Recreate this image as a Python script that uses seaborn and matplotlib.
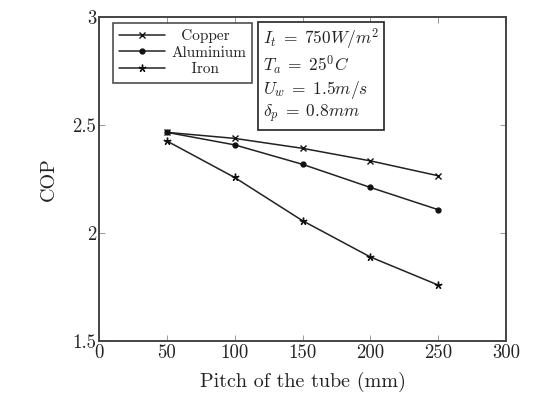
import matplotlib
matplotlib.use("Agg")
import matplotlib.pyplot as plt
import seaborn as sns
import pandas as pd

# Tube pitch (mm) and coefficient of performance per absorber material
pitch = [50, 100, 150, 200, 250]
cop_copper = [2.466, 2.438, 2.392, 2.334, 2.265]
cop_aluminium = [2.466, 2.408, 2.318, 2.211, 2.108]
cop_iron = [2.426, 2.257, 2.057, 1.889, 1.759]
materials = ["Copper", "Aluminium", "Iron"]

x_ticks = [0, 50, 100, 150, 200, 250, 300]
y_ticks = [1.5, 2, 2.5, 3]

df = pd.DataFrame({
    "pitch": pitch * 3,
    "cop": cop_copper + cop_aluminium + cop_iron,
    "material": [m for m in materials for _ in pitch],
})

sns.set_theme(style="white")
plt.rcParams.update({
    "font.family": "serif",
    "font.serif": ["cmr10"],
    "mathtext.fontset": "cm",
    "axes.formatter.use_mathtext": True,
    "axes.unicode_minus": False,
})

fig = plt.figure(figsize=(5.43, 3.99), dpi=100)
ax = fig.add_axes([99 / 543, 1 - 341 / 399, (506 - 99) / 543, (341 - 17) / 399])

marker_map = {"Copper": "x", "Aluminium": "o", "Iron": (5, 2, 0)}
size_map = {"Copper": 4, "Aluminium": 3.5, "Iron": 5.5}
# leading spaces roughly centre the entries inside the legend column
legend_pad = {"Copper": "  ", "Aluminium": "", "Iron": "    "}
for m in materials:
    sub = df[df["material"] == m]
    sns.lineplot(data=sub, x="pitch", y="cop", ax=ax, color="#222222",
                 marker=marker_map[m], markersize=size_map[m],
                 markeredgecolor="#111111", markerfacecolor="#111111",
                 markeredgewidth=1.0, linewidth=1.1,
                 label=legend_pad[m] + m)

ax.set_xlim(0, 300)
ax.set_ylim(1.5, 3)
ax.set_xticks(x_ticks)
ax.set_xticklabels([str(v) for v in x_ticks])
ax.set_yticks(y_ticks)
ax.set_yticklabels(["1.5", "2", "2.5", "3"])
ax.tick_params(direction="in", length=4, width=0.6, colors="#888888",
               labelcolor="#222222", labelsize=13.5, top=True, right=True,
               bottom=True, left=True, pad=2)
for s in ax.spines.values():
    s.set_color("#444444")
    s.set_linewidth(1.4)

ax.set_xlabel("Pitch of the tube (mm)", fontsize=14.5, labelpad=7,
              color="#222222")
ax.set_ylabel("COP", fontsize=14.5, labelpad=10, color="#222222")

leg = ax.legend(loc="upper left", bbox_to_anchor=(0.035, 0.982), frameon=True,
                fancybox=False, edgecolor="#222222", fontsize=11,
                handlelength=3.0, numpoints=1, borderpad=0.4,
                labelspacing=0.2, handletextpad=0.4, borderaxespad=0.0)
leg.get_frame().set_linewidth(1.2)
for t in leg.get_texts():
    t.set_color("#222222")

info = ("$I_t\\;=\\;750W/m^2$\n$T_a\\;=\\;25^0C$\n"
        "$U_w\\;=\\;1.5m/s$\n$\\delta_p\\;=\\;0.8mm$")
ax.text(0.403, 0.97, info, transform=ax.transAxes, ha="left", va="top",
        fontsize=12.5, linespacing=1.12, color="#222222",
        bbox=dict(boxstyle="square,pad=0.3", facecolor="white",
                  edgecolor="#222222", linewidth=1.2))

fig.savefig("out.png", dpi=100)
